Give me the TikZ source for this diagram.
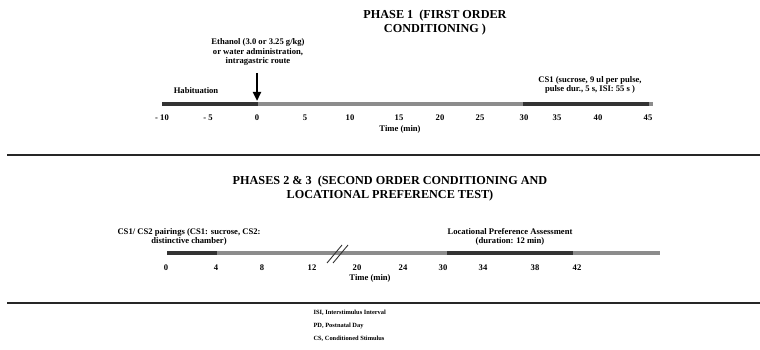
\documentclass[tikz,border=0pt]{standalone}
\usepackage{fontspec}
\setmainfont{Liberation Serif}
\usetikzlibrary{arrows.meta}

\definecolor{bardark}{gray}{0.2}
\definecolor{barlight}{gray}{0.55}

\begin{document}
\begin{tikzpicture}[x=1pt, y=-1pt,
    ttl/.style={font=\bfseries\fontsize{12.2}{14}\selectfont, align=center},
    lbl/.style={font=\bfseries\fontsize{8.6}{9.3}\selectfont, align=center},
    tick/.style={font=\bfseries\fontsize{8.6}{9}\selectfont},
    legend/.style={font=\bfseries\fontsize{6.4}{7}\selectfont, anchor=west},
    dseg/.style={line width=4.5pt, bardark},
    lseg/.style={line width=4.5pt, barlight},
    rule/.style={line width=2.5pt, black!85},
    arr/.style={-{Triangle[length=9pt,width=8pt]}, line width=2.6pt}
]
\useasboundingbox[fill=white] (0,0) rectangle (760,350);

% phase 1
\node[ttl] (title1) at (435,23) {PHASE 1 \ (FIRST ORDER\\CONDITIONING )};
\node[lbl] (eth) at (258,52) {Ethanol (3.0 or 3.25 g/kg)\\or water administration,\\intragastric route};
\node[lbl] (habit) at (196,91) {Habituation};
\node[lbl] (cs1) at (590,85) {CS1 (sucrose, 9 ul per pulse,\\pulse dur., 5 s, ISI: 55 s )};

\draw[dseg] (162,104) -- (258,104);
\draw[lseg] (258,104) -- (523,104);
\draw[dseg] (523,104) -- (649,104);
\draw[lseg] (649,104) -- (653,104);
\coordinate (zero) at (257,101);
\draw[arr] (257,73) -- (zero);

\foreach \x/\t in {162/- 10, 208/- 5, 257/0, 305/5, 350/10, 399/15, 440/20, 480/25, 524/30, 557/35, 598/40, 648/45}
    \node[tick] at (\x,118) {\t};
\node[tick] (time1) at (400,129) {Time (min)};

\draw[rule] (7,155) -- (760,155);

% phases 2 & 3
\node[ttl] (title2) at (390,189) {PHASES 2 \& 3 \ (SECOND ORDER CONDITIONING AND\\LOCATIONAL PREFERENCE TEST)};
\node[lbl] (pair) at (189,237) {CS1/ CS2 pairings (CS1: sucrose, CS2:\\distinctive chamber)};
\node[lbl] (loc) at (510,237) {Locational Preference Assessment\\(duration: 12 min)};

\draw[dseg] (167,253) -- (217,253);
\draw[lseg] (217,253) -- (447,253);
\draw[dseg] (447,253) -- (573,253);
\draw[lseg] (573,253) -- (660,253);
\draw[line width=0.9pt, bardark] (327,263) -- (342,245) (333,263) -- (348,245);

\foreach \x/\t in {166/0, 216/4, 262/8, 312/12, 357/20, 403/24, 443/30, 483/34, 535/38, 577/42}
    \node[tick] at (\x,268) {\t};
\node[tick] (time2) at (370,278) {Time (min)};

\draw[rule] (7,303) -- (760,303);

% abbreviations
\node[legend] (isi) at (310,313) {ISI, Interstimulus Interval};
\node[legend] (pd) at (310,326) {PD, Postnatal Day};
\node[legend] (cs) at (310,339) {CS, Conditioned Stimulus};
\end{tikzpicture}
\end{document}
